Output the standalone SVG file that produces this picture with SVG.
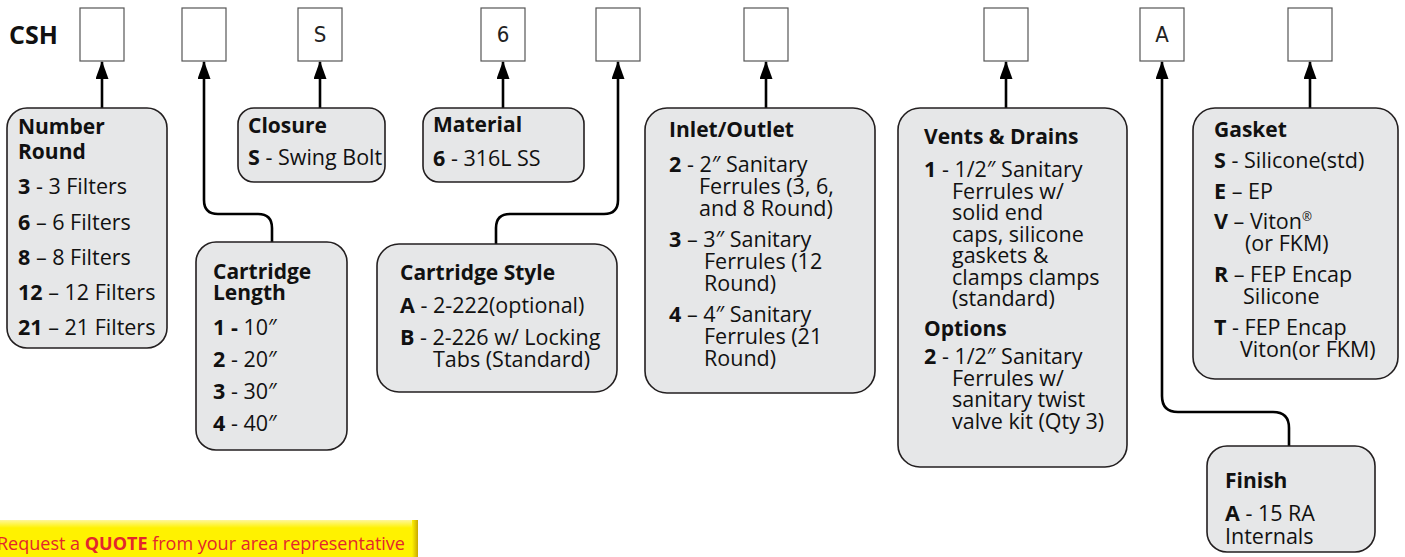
<svg xmlns="http://www.w3.org/2000/svg" width="1405" height="557" viewBox="0 0 1405 557">
<defs>
<marker id="ah" markerWidth="18" markerHeight="13" refX="17" refY="6.5" orient="auto" markerUnits="userSpaceOnUse" viewBox="0 0 18 13">
<path d="M0,0 L18,6.5 L0,13 Z" fill="#000"/>
</marker>
<linearGradient id="yel" x1="0" y1="0" x2="0" y2="1">
<stop offset="0" stop-color="#fff799"/>
<stop offset="0.2" stop-color="#fff200"/>
<stop offset="1" stop-color="#fff200"/>
</linearGradient>
<linearGradient id="yedge" x1="0" y1="0" x2="1" y2="0">
<stop offset="0" stop-color="#fff200"/>
<stop offset="1" stop-color="#c9a800"/>
</linearGradient>
</defs>
<style>
.slot{fill:#fff;stroke:#555;stroke-width:1.2}
.slt{font-family:"DejaVu Sans Condensed","DejaVu Sans",sans-serif;font-stretch:condensed;font-size:22px;fill:#222;text-anchor:middle}
.node{fill:#e6e7e8;stroke:#231f20;stroke-width:1.6}
.t{font-family:"Open Sans",Lato,sans-serif;font-size:21.5px;fill:#111}
.h{font-family:"Open Sans",Lato,sans-serif;font-size:21px;font-weight:bold;fill:#111}
.b{font-weight:bold}
.conn path{fill:none;stroke:#000;stroke-width:2.6}
</style>
<text x="9" y="44" style="font-family:'Open Sans',Lato,sans-serif;font-size:25px;font-weight:bold;fill:#111">CSH</text>
<g id="slots">
<rect class="slot" x="80" y="8" width="44" height="53"/>
<rect class="slot" x="182" y="8" width="44" height="53"/>
<rect class="slot" x="298" y="8" width="44" height="53"/>
<text class="slt" x="320" y="42">S</text>
<rect class="slot" x="481" y="8" width="44" height="53"/>
<text class="slt" x="503" y="42">6</text>
<rect class="slot" x="596" y="8" width="44" height="53"/>
<rect class="slot" x="744" y="8" width="44" height="53"/>
<rect class="slot" x="984" y="8" width="44" height="53"/>
<rect class="slot" x="1140" y="8" width="44" height="53"/>
<text class="slt" x="1162" y="42">A</text>
<rect class="slot" x="1288" y="8" width="44" height="53"/>
</g>
<g class="conn">
<path d="M102,108 V62" marker-end="url(#ah)"/>
<path d="M272,242 V228 Q272,214 258,214 H218 Q204,214 204,200 V62" marker-end="url(#ah)"/>
<path d="M320,108 V62" marker-end="url(#ah)"/>
<path d="M503,108 V62" marker-end="url(#ah)"/>
<path d="M496,244 V228 Q496,214 510,214 H604 Q618,214 618,200 V62" marker-end="url(#ah)"/>
<path d="M766,108 V62" marker-end="url(#ah)"/>
<path d="M1006,108 V62" marker-end="url(#ah)"/>
<path d="M1289,446 V428 Q1289,412 1273,412 H1178 Q1162,412 1162,396 V62" marker-end="url(#ah)"/>
<path d="M1310,108 V62" marker-end="url(#ah)"/>
</g>
<g id="number-round">
<rect class="node" x="7" y="108" width="160" height="240" rx="20"/>
<text class="h" x="18" y="134">Number</text>
<text class="h" x="18" y="159">Round</text>
<text class="t" x="18" y="194"><tspan class="b">3</tspan> - 3 Filters</text>
<text class="t" x="18" y="230"><tspan class="b">6</tspan> – 6 Filters</text>
<text class="t" x="18" y="265"><tspan class="b">8</tspan> – 8 Filters</text>
<text class="t" x="18" y="300"><tspan class="b">12</tspan> – 12 Filters</text>
<text class="t" x="18" y="335"><tspan class="b">21</tspan> – 21 Filters</text>
</g>
<g id="cartridge-length">
<rect class="node" x="196" y="242" width="151" height="208" rx="20"/>
<text class="h" x="213" y="279">Cartridge</text>
<text class="h" x="213" y="300">Length</text>
<text class="t" x="213" y="335"><tspan class="b">1 -</tspan> 10″</text>
<text class="t" x="213" y="367">
<tspan class="b">2</tspan> - 20″</text>
<text class="t" x="213" y="399"><tspan class="b">3</tspan> - 30″</text>
<text class="t" x="213" y="431"><tspan class="b">4</tspan> - 40″</text>
</g>
<g id="closure">
<rect class="node" x="238" y="108" width="147" height="74" rx="16"/>
<text class="h" x="248" y="133">Closure</text>
<text class="t" x="248" y="165"><tspan class="b">S</tspan> - Swing Bolt</text>
</g>
<g id="material">
<rect class="node" x="423" y="108" width="161" height="74" rx="16"/>
<text class="h" x="433" y="132">Material</text>
<text class="t" x="433" y="166"><tspan class="b">6</tspan> - 316L SS</text>
</g>
<g id="cartridge-style">
<rect class="node" x="377" y="244" width="240" height="148" rx="22"/>
<text class="h" x="400" y="280">Cartridge Style</text>
<text class="t" x="400" y="313"><tspan class="b">A</tspan> - 2-222(optional)</text>
<text class="t" x="400" y="345"><tspan class="b">B</tspan> - 2-226 w/ Locking</text>
<text class="t" x="433" y="367">Tabs (Standard)</text>
</g>
<g id="inlet-outlet">
<rect class="node" x="645" y="108" width="230" height="285" rx="22"/>
<text class="h" x="669" y="137">Inlet/Outlet</text>
<text class="t" x="669" y="172"><tspan class="b">2</tspan> - 2″ Sanitary</text>
<text class="t" x="699" y="194">Ferrules (3, 6,</text>
<text class="t" x="699" y="216">and 8 Round)</text>
<text class="t" x="669" y="247"><tspan class="b">3</tspan> – 3″ Sanitary</text>
<text class="t" x="704" y="269">Ferrules (12</text>
<text class="t" x="704" y="291">Round)</text>
<text class="t" x="669" y="322"><tspan class="b">4</tspan> – 4″ Sanitary</text>
<text class="t" x="704" y="344">Ferrules (21</text>
<text class="t" x="704" y="366">Round)</text>
</g>
<g id="vents-drains">
<rect class="node" x="898" y="108" width="229" height="359" rx="22"/>
<text class="h" x="924" y="144">Vents &amp; Drains</text>
<text class="t" x="924" y="177"><tspan class="b">1</tspan> - 1/2″ Sanitary</text>
<text class="t" x="952" y="198.5">Ferrules w/</text>
<text class="t" x="952" y="220">solid end</text>
<text class="t" x="952" y="241.5">caps, silicone</text>
<text class="t" x="952" y="263">gaskets &amp;</text>
<text class="t" x="952" y="284.5">clamps clamps</text>
<text class="t" x="952" y="306">(standard)</text>
<text class="h" x="924" y="336">Options</text>
<text class="t" x="924" y="364"><tspan class="b">2</tspan> - 1/2″ Sanitary</text>
<text class="t" x="952" y="385.5">Ferrules w/</text>
<text class="t" x="952" y="407">sanitary twist</text>
<text class="t" x="952" y="428.5">valve kit (Qty 3)</text>
</g>
<g id="gasket">
<rect class="node" x="1193" y="108" width="205" height="271" rx="22"/>
<text class="h" x="1214" y="137">Gasket</text>
<text class="t" x="1214" y="168"><tspan class="b">S</tspan> - Silicone(std)</text>
<text class="t" x="1214" y="199"><tspan class="b">E</tspan> – EP</text>
<text class="t" x="1214" y="229"><tspan class="b">V</tspan> – Viton<tspan font-size="12" dy="-8">®</tspan></text>
<text class="t" x="1245" y="251">(or FKM)</text>
<text class="t" x="1214" y="282"><tspan class="b">R</tspan> – FEP Encap</text>
<text class="t" x="1243" y="304">Silicone</text>
<text class="t" x="1214" y="335"><tspan class="b">T</tspan> - FEP Encap</text>
<text class="t" x="1240" y="357">Viton(or FKM)</text>
</g>
<g id="finish">
<rect class="node" x="1207" y="446" width="168" height="106" rx="20"/>
<text class="h" x="1225" y="488">Finish</text>
<text class="t" x="1225" y="521"><tspan class="b">A</tspan> - 15 RA</text>
<text class="t" x="1225" y="544">Internals</text>
</g>
<g id="quote">
<rect x="-2" y="520" width="420" height="40" fill="url(#yel)"/>
<rect x="412" y="520" width="6" height="40" fill="url(#yedge)"/>
<text x="-3" y="550" style="font-family:'Open Sans',Lato,sans-serif;font-size:18px;fill:#e3262d">Request a <tspan font-weight="bold">QUOTE</tspan> from your area representative</text>
</g>
</svg>
